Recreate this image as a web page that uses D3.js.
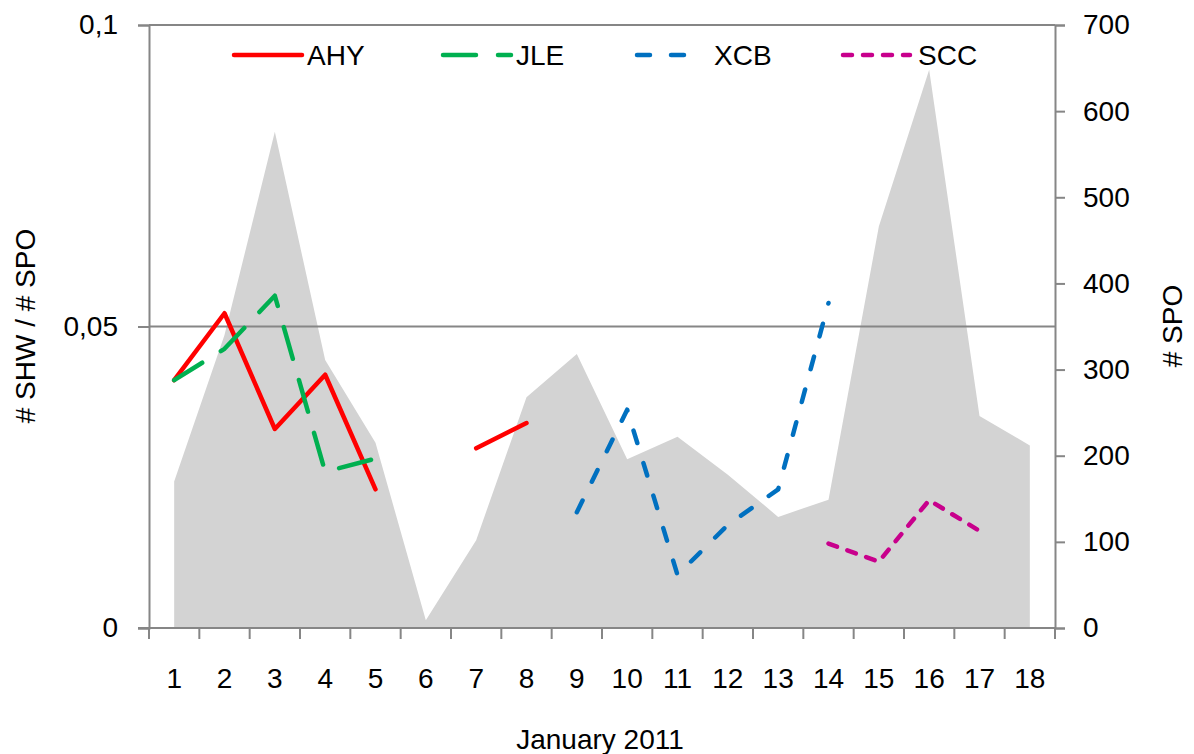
<!DOCTYPE html>
<html>
<head>
<meta charset="utf-8">
<script src="https://cdn.jsdelivr.net/npm/d3@7"></script>
<style>
  html, body { margin: 0; padding: 0; background: #fff; }
  svg { display: block; }
  text { font-family: "Liberation Sans", Arial, sans-serif; fill: #000; }
</style>
</head>
<body>
<svg id="chart" width="1194" height="754"></svg>
<script>
const categories = ["1","2","3","4","5","6","7","8","9","10","11","12","13","14","15","16","17","18"];
const spo = [170, 340, 576, 311, 215, 9, 102, 268, 318, 196, 222, 178, 129, 149, 466, 648, 246, 212];
const ahy = [0.0411, 0.0522, 0.0330, 0.0420, 0.0230, null, 0.0298, 0.0340, null, null, null, null, null, null, null, null, null, null];
const jle = [0.0411, 0.0463, 0.0551, 0.0259, 0.0281, null, null, null, null, null, null, null, null, null, null, null, null, null];
const xcb = [null, null, null, null, null, null, null, null, 0.0192, 0.0362, 0.0088, 0.0171, 0.0230, 0.0539, null, null, null, null];
const scc = [null, null, null, null, null, null, null, null, null, null, null, null, null, 0.0140, 0.0110, 0.0212, 0.0161, null];
const leftTicks = [0, 0.05, 0.1];
const leftTickLabels = ["0", "0,05", "0,1"];
const rightTicks = [0, 100, 200, 300, 400, 500, 600, 700];
const seriesNames = ["AHY", "JLE", "XCB", "SCC"];

const svg = d3.select("#chart");
const L = 149, R = 1055, T = 25, B = 628;
const axisColor = "#868686";

const x = d3.scaleBand().domain(categories).range([L, R]).padding(0);
const cx = d => x(d) + x.bandwidth() / 2;
const yL = d3.scaleLinear().domain([0, 0.1]).range([B, T]);
const yR = d3.scaleLinear().domain([0, 700]).range([B, T]);

// area (right axis)
const area = d3.area()
  .x((d, i) => cx(categories[i]))
  .y0(B)
  .y1(d => yR(d));
svg.append("path").datum(spo).attr("d", area).attr("fill", "#D3D3D3");

// gridlines (left axis)
svg.append("g").selectAll("line").data(leftTicks.filter(t => t > 0)).join("line")
  .attr("x1", L).attr("x2", R)
  .attr("y1", d => yL(d)).attr("y2", d => yL(d))
  .attr("stroke", axisColor).attr("stroke-width", 2);

// left axis
const gL = svg.append("g").attr("transform", `translate(${L},0)`)
  .call(d3.axisLeft(yL).tickValues(leftTicks).tickFormat((d, i) => leftTickLabels[i]).tickSize(11).tickPadding(20));
gL.select(".domain").attr("stroke", axisColor).attr("stroke-width", 2);
gL.selectAll(".tick line").attr("stroke", axisColor).attr("stroke-width", 2);
gL.selectAll(".tick text").attr("font-size", 28).attr("font-family", "Liberation Sans, Arial, sans-serif").attr("fill", "#000");

// right axis
const gR = svg.append("g").attr("transform", `translate(${R},0)`)
  .call(d3.axisRight(yR).tickValues(rightTicks).tickSize(10).tickPadding(18));
gR.select(".domain").attr("stroke", axisColor).attr("stroke-width", 2);
gR.selectAll(".tick line").attr("stroke", axisColor).attr("stroke-width", 2);
gR.selectAll(".tick text").attr("font-size", 28).attr("font-family", "Liberation Sans, Arial, sans-serif").attr("fill", "#000");

// bottom axis
const gB = svg.append("g").attr("transform", `translate(0,${B})`)
  .call(d3.axisBottom(x).tickSize(0).tickPadding(40));
gB.select(".domain").remove();
gB.selectAll(".tick text").attr("font-size", 28).attr("font-family", "Liberation Sans, Arial, sans-serif").attr("fill", "#000");
svg.append("line").attr("x1", L - 11).attr("x2", R).attr("y1", B).attr("y2", B)
  .attr("stroke", axisColor).attr("stroke-width", 2);
const bounds = categories.map(c => x(c)).concat([R]);
svg.append("g").selectAll("line").data(bounds).join("line")
  .attr("x1", d => d).attr("x2", d => d).attr("y1", B).attr("y2", B + 11)
  .attr("stroke", axisColor).attr("stroke-width", 2);

// axis titles
svg.append("text").attr("x", 600).attr("y", 749).attr("text-anchor", "middle")
  .attr("font-size", 28).text("January 2011");
svg.append("text").attr("transform", "translate(35,326) rotate(-90)").attr("text-anchor", "middle")
  .attr("font-size", 28).text("# SHW / # SPO");
svg.append("text").attr("transform", "translate(1182,326) rotate(-90)").attr("text-anchor", "middle")
  .attr("font-size", 28).text("# SPO");

// lines
const styles = [
  { data: ahy, color: "#FF0000", dash: null, width: 4.5 },
  { data: jle, color: "#00B050", dash: "33,22", width: 4.5 },
  { data: xcb, color: "#0070C0", dash: "13,21", width: 4.5 },
  { data: scc, color: "#C8008C", dash: "9,11", width: 4.5 }
];
const line = d3.line()
  .defined(d => d != null)
  .x((d, i) => cx(categories[i]))
  .y(d => yL(d));
styles.forEach(s => {
  svg.append("path").datum(s.data).attr("d", line)
    .attr("fill", "none").attr("stroke", s.color).attr("stroke-width", s.width)
    .attr("stroke-linecap", "round").attr("stroke-linejoin", "round")
    .attr("stroke-dasharray", s.dash);
});

// legend
const legendX = [232, 441, 635, 841];
const legendLen = [72, 72, 56, 71];
const legendTextX = [307, 516, 714, 918];
seriesNames.forEach((n, i) => {
  const s = styles[i];
  svg.append("line").attr("x1", legendX[i] + 2).attr("x2", legendX[i] + legendLen[i] - 2)
    .attr("y1", 55).attr("y2", 55)
    .attr("stroke", s.color).attr("stroke-width", s.width)
    .attr("stroke-linecap", "round").attr("stroke-dasharray", s.dash);
  svg.append("text").attr("x", legendTextX[i]).attr("y", 65).attr("font-size", 28).text(n);
});
</script>
</body>
</html>
